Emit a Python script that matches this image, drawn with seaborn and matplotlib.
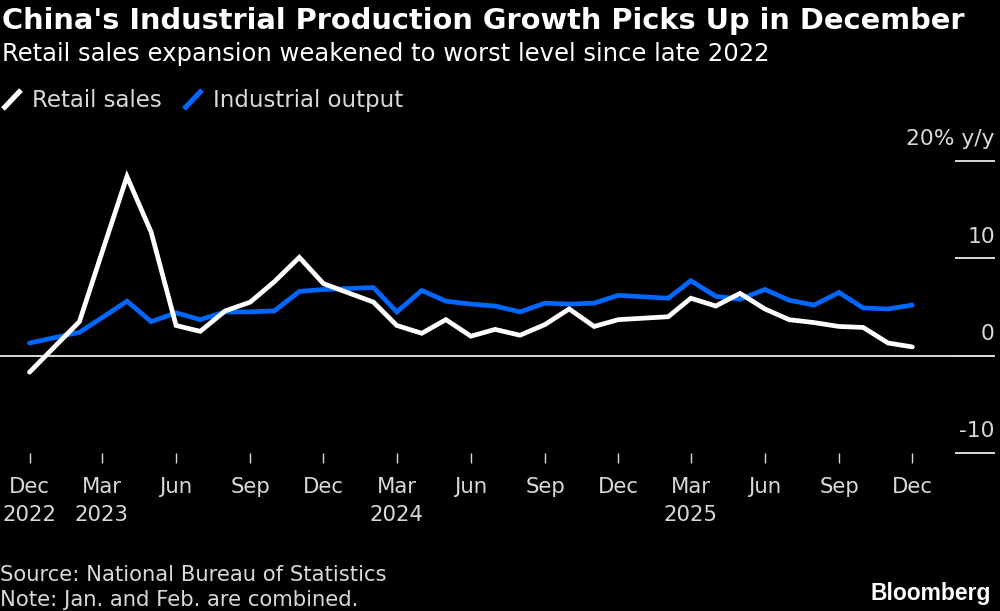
import pandas as pd
import matplotlib
matplotlib.use('Agg')
import matplotlib.pyplot as plt
import seaborn as sns
from matplotlib.lines import Line2D

# months reported (January is rolled into February, so there is no Jan point)
months = ['2022-12',
          '2023-02', '2023-03', '2023-04', '2023-05', '2023-06', '2023-07',
          '2023-08', '2023-09', '2023-10', '2023-11', '2023-12',
          '2024-02', '2024-03', '2024-04', '2024-05', '2024-06', '2024-07',
          '2024-08', '2024-09', '2024-10', '2024-11', '2024-12',
          '2025-02', '2025-03', '2025-04', '2025-05', '2025-06', '2025-07',
          '2025-08', '2025-09', '2025-10', '2025-11', '2025-12']
retail_sales = [-1.7,
                3.5, 10.6, 18.4, 12.7, 3.1, 2.5, 4.6, 5.5, 7.6, 10.1, 7.4,
                5.5, 3.1, 2.3, 3.7, 2.0, 2.7, 2.1, 3.2, 4.8, 3.0, 3.7,
                4.0, 5.9, 5.1, 6.4, 4.8, 3.7, 3.4, 3.0, 2.9, 1.3, 0.9]
industrial_output = [1.3,
                     2.4, 3.9, 5.6, 3.5, 4.4, 3.7, 4.5, 4.5, 4.6, 6.6, 6.8,
                     7.0, 4.5, 6.7, 5.6, 5.3, 5.1, 4.5, 5.4, 5.3, 5.4, 6.2,
                     5.9, 7.7, 6.1, 5.8, 6.8, 5.7, 5.2, 6.5, 4.9, 4.8, 5.2]

tick_months = ['2022-12', '2023-03', '2023-06', '2023-09', '2023-12', '2024-03', '2024-06',
               '2024-09', '2024-12', '2025-03', '2025-06', '2025-09', '2025-12']
tick_labels = ['Dec\n2022', 'Mar\n2023', 'Jun', 'Sep', 'Dec', 'Mar\n2024', 'Jun',
               'Sep', 'Dec', 'Mar\n2025', 'Jun', 'Sep', 'Dec']
y_ticks = [20, 10, -10]
y_labels = ['20% y/y', '10', '-10']

WHITE = '#ffffff'
BLUE = '#0068ff'
GREY = '#d9d9d9'

sns.set_style('dark', {'axes.facecolor': 'black', 'figure.facecolor': 'black'})
plt.rcParams['font.family'] = ['DejaVu Sans']

df = pd.DataFrame({
    'date': pd.to_datetime(months * 2),
    'value': retail_sales + industrial_output,
    'series': ['Retail sales'] * len(months) + ['Industrial output'] * len(months),
})

W, H = 1000, 611
fig = plt.figure(figsize=(W / 100, H / 100), dpi=100, facecolor='black')
# axes box in pixels: x 0-995, y 161 (20) down to 453 (-10)
ax = fig.add_axes([0, 1 - 453 / H, 995 / W, 292 / H])

sns.lineplot(data=df, x='date', y='value', hue='series',
             palette={'Retail sales': WHITE, 'Industrial output': BLUE},
             hue_order=['Industrial output', 'Retail sales'],
             linewidth=3.4, legend=False, ax=ax,
             solid_joinstyle='miter', solid_capstyle='round')

first = pd.Timestamp('2022-12-01')
last = pd.Timestamp('2025-12-01')
px_per_day = (912.3 - 29.5) / (last - first).days
ax.set_xlim(first - pd.Timedelta(days=29.5 / px_per_day),
            last + pd.Timedelta(days=(995 - 912.3) / px_per_day))
ax.set_ylim(-10, 20)

for s in ax.spines.values():
    s.set_visible(False)
ax.grid(False)
ax.set_xlabel('')
ax.set_ylabel('')

ax.set_xticks(pd.to_datetime(tick_months))
ax.set_xticklabels(tick_labels, fontsize=15.3, color=GREY, linespacing=1.55)
ax.tick_params(axis='x', bottom=True, length=7, width=1, color=GREY, pad=10)

# right-hand ticks are short rules with the label sitting on top
ax.yaxis.tick_right()
ax.set_yticks(y_ticks + [0])
ax.set_yticklabels([])
ax.tick_params(axis='y', right=True, left=False, direction='in', length=29, width=1.4, color=GREY)
for v, lab in zip(y_ticks + [0], y_labels + ['0']):
    ax.annotate(lab, xy=(1, v), xycoords=('axes fraction', 'data'), xytext=(0, 8.5),
                textcoords='offset points', ha='right', va='bottom',
                fontsize=15.7, color=GREY, annotation_clip=False)
ax.axhline(0, color=GREY, linewidth=1.4, zorder=1)

fig.text(2 / W, 1 - 29 / H, "China's Industrial Production Growth Picks Up in December",
         fontsize=20.8, fontweight='bold', color='white', va='baseline')
fig.text(2 / W, 1 - 61 / H, 'Retail sales expansion weakened to worst level since late 2022',
         fontsize=17.5, color='white', va='baseline')

# legend: slanted swatches followed by the names
for x0, colour, name, xt in [(3, WHITE, 'Retail sales', 32), (184, BLUE, 'Industrial output', 213)]:
    fig.add_artist(Line2D([x0 / W, (x0 + 18) / W], [1 - 109 / H, 1 - 90 / H],
                          color=colour, linewidth=3.7, solid_capstyle='butt'))
    fig.text(xt / W, 1 - 107 / H, name, fontsize=16.5, color=GREY, va='baseline')

fig.text(0, 1 - 581 / H, 'Source: National Bureau of Statistics',
         fontsize=15.2, color=GREY, va='baseline')
fig.text(0, 1 - 606 / H, 'Note: Jan. and Feb. are combined.',
         fontsize=15.2, color=GREY, va='baseline')
fig.text(991 / W, 1 - 600 / H, 'Bloomberg', fontsize=16.5, fontweight='bold',
         family='Liberation Sans', color='white', ha='right', va='baseline')

fig.savefig('out.png', dpi=100, facecolor='black')
